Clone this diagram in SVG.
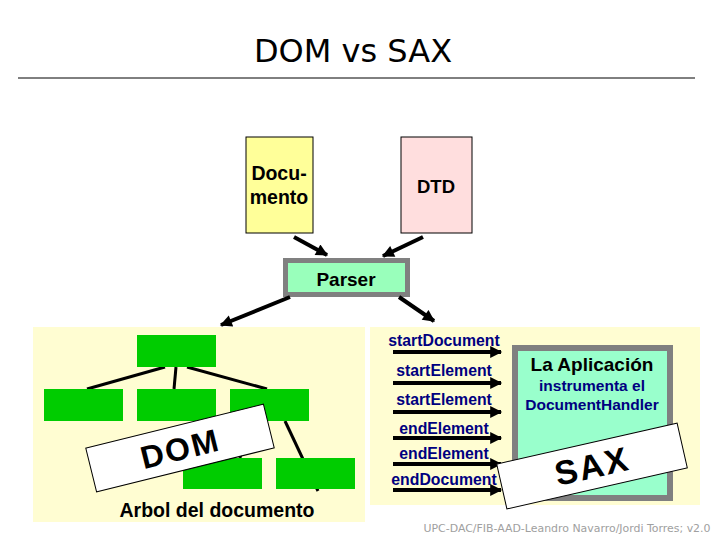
<svg xmlns="http://www.w3.org/2000/svg" width="720" height="540" viewBox="0 0 720 540">
<defs>
<marker id="ah" viewBox="0 0 10 10" refX="9" refY="5" markerWidth="14" markerHeight="12" markerUnits="userSpaceOnUse" orient="auto">
<path d="M0,0 L10,5 L0,10 Z" fill="#000"/>
</marker>
<style>
.b{font-family:"Liberation Sans",Arial,sans-serif;font-weight:bold;text-anchor:middle}
.ev{font-family:"Liberation Sans",Arial,sans-serif;font-weight:bold;font-size:15.8px;fill:#000080;text-anchor:middle}
.arr{stroke:#000;stroke-width:4;fill:none;marker-end:url(#ah)}
.tl{stroke:#000;stroke-width:3}
.node{fill:#00cc00}
.lab{fill:#fff;stroke:#000;stroke-width:1}
</style>
</defs>
<rect width="720" height="540" fill="#fff"/>
<text x="353" y="62" font-family="DejaVu Sans,Verdana,sans-serif" font-size="32" text-anchor="middle" fill="#000">DOM vs SAX</text>
<line x1="18" y1="78" x2="695" y2="78" stroke="#000" stroke-width="1"/>

<g id="documento">
<rect x="246" y="137" width="67" height="96" fill="#ffff99" stroke="#000" stroke-width="1"/>
<text class="b" x="279" y="180" font-size="19.5">Docu-</text>
<text class="b" x="279" y="204" font-size="19.5">mento</text>
</g>
<g id="dtd">
<rect x="401" y="137" width="71" height="96" fill="#ffdede" stroke="#000" stroke-width="1"/>
<text class="b" x="436" y="193" font-size="18.5">DTD</text>
</g>
<g id="parser">
<rect x="285.500" y="260.500" width="122" height="34" fill="#99ffbb" stroke="#808080" stroke-width="5"/>
<text class="b" x="346" y="286" font-size="19">Parser</text>
</g>

<g id="dom-panel">
<rect x="33" y="327" width="332" height="195" fill="#fffdd2"/>
</g>
<g id="sax-panel">
<rect x="370" y="327" width="330" height="178" fill="#fffdd2"/>
</g>

<g id="connectors">
<line class="arr" x1="294" y1="237" x2="327" y2="255"/>
<line class="arr" x1="423" y1="237" x2="383" y2="256"/>
<line class="arr" x1="290" y1="297" x2="221" y2="325"/>
<line class="arr" x1="399" y1="297" x2="434" y2="321"/>
<line class="tl" x1="165" y1="367" x2="87" y2="389"/>
<line class="tl" x1="176" y1="367" x2="174" y2="389"/>
<line class="tl" x1="187" y1="367" x2="267" y2="389"/>
<line class="tl" x1="248" y1="421" x2="240" y2="458"/>
<line class="tl" x1="285" y1="421" x2="318" y2="491"/>
<line class="arr" x1="393" y1="352" x2="501" y2="352"/>
<line class="arr" x1="393" y1="383" x2="501" y2="383"/>
<line class="arr" x1="393" y1="412" x2="501" y2="412"/>
<line class="arr" x1="393" y1="438" x2="501" y2="438"/>
<line class="arr" x1="393" y1="464" x2="501" y2="464"/>
<line class="arr" x1="393" y1="490" x2="501" y2="490"/>
</g>

<g id="tree-root"><rect class="node" x="137" y="335" width="79" height="32"/></g>
<g id="tree-a"><rect class="node" x="44" y="389" width="79" height="32"/></g>
<g id="tree-b"><rect class="node" x="137" y="389" width="79" height="32"/></g>
<g id="tree-c"><rect class="node" x="230" y="389" width="79" height="32"/></g>
<g id="tree-d"><rect class="node" x="183" y="458" width="79" height="31"/></g>
<g id="tree-e"><rect class="node" x="276" y="458" width="79" height="31"/></g>

<g id="dom-label" transform="translate(180,448) rotate(-13.9)">
<rect class="lab" x="-91.500" y="-22.500" width="183" height="45"/>
<text class="b" x="0" y="12" font-size="32" letter-spacing="2">DOM</text>
</g>
<text class="b" x="217" y="517" font-size="19.5" fill="#000">Arbol del documento</text>

<g id="events">
<text class="ev" x="444" y="346">startDocument</text>
<text class="ev" x="444" y="376">startElement</text>
<text class="ev" x="444" y="405">startElement</text>
<text class="ev" x="444" y="434">endElement</text>
<text class="ev" x="444" y="459">endElement</text>
<text class="ev" x="444" y="485">endDocument</text>
</g>

<g id="aplicacion">
<rect x="515" y="348" width="155" height="150" fill="#99ffcc" stroke="#808080" stroke-width="6"/>
<text class="b" x="592" y="371" font-size="19" fill="#000">La Aplicación</text>
<text class="b" x="592" y="391" font-size="15.5" fill="#000080">instrumenta el</text>
<text class="b" x="592" y="410" font-size="15.5" fill="#000080">DocumentHandler</text>
</g>

<g id="sax-label" transform="translate(592,466) rotate(-12.8)">
<rect class="lab" x="-92.500" y="-23" width="185" height="46"/>
<text class="b" x="0" y="12" font-size="34" letter-spacing="2">SAX</text>
</g>

<text x="567" y="532" font-family="DejaVu Sans,Verdana,sans-serif" font-size="11" fill="#a0a0a0" text-anchor="middle" textLength="287" lengthAdjust="spacingAndGlyphs">UPC-DAC/FIB-AAD-Leandro Navarro/Jordi Torres; v2.0</text>
</svg>
